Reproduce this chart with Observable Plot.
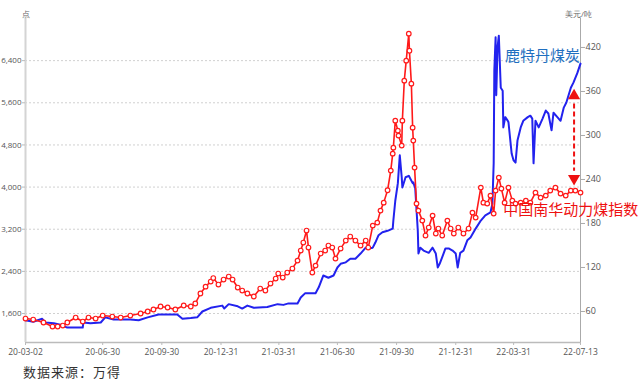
<!DOCTYPE html>
<html>
<head>
<meta charset="utf-8">
<script src="https://cdn.jsdelivr.net/npm/d3@7"></script>
<script src="https://cdn.jsdelivr.net/npm/@observablehq/plot@0.6"></script>
<style>
  html, body { margin: 0; padding: 0; background: #fff; }
  #chart { width: 640px; height: 384px; position: relative; }
  #caption { height: 24px; line-height: 24px; font-size: 13px; padding-left: 23px; letter-spacing: 1px;
    font-family: "Noto Sans CJK SC", sans-serif; color: #333; }
</style>
</head>
<body>
<div id="chart"></div>
<script>
// 中国南华动力煤指数 (点, left axis)
const redDates = ["2020-03-02","2020-03-14","2020-03-30","2020-04-13","2020-04-21","2020-04-29","2020-05-06","2020-05-19","2020-05-30","2020-06-08","2020-06-19","2020-06-30","2020-07-15","2020-07-28","2020-08-12","2020-08-28","2020-09-08","2020-09-17","2020-09-28","2020-10-09","2020-10-21","2020-11-03","2020-11-14","2020-11-21","2020-11-29","2020-12-07","2020-12-15","2020-12-19","2020-12-27","2021-01-04","2021-01-12","2021-01-18","2021-01-26","2021-02-02","2021-02-10","2021-02-20","2021-03-02","2021-03-10","2021-03-18","2021-03-26","2021-03-30","2021-04-06","2021-04-13","2021-04-21","2021-04-29","2021-05-04","2021-05-08","2021-05-13","2021-05-16","2021-05-22","2021-05-27","2021-06-04","2021-06-11","2021-06-16","2021-06-22","2021-06-27","2021-07-05","2021-07-13","2021-07-20","2021-07-28","2021-08-05","2021-08-13","2021-08-17","2021-08-24","2021-08-31","2021-09-05","2021-09-10","2021-09-16","2021-09-21","2021-09-24","2021-09-25","2021-09-28","2021-10-02","2021-10-03","2021-10-08","2021-10-09","2021-10-12","2021-10-15","2021-10-19","2021-10-20","2021-10-23","2021-10-25","2021-10-26","2021-10-28","2021-10-31","2021-11-03","2021-11-09","2021-11-14","2021-11-19","2021-11-25","2021-11-30","2021-12-04","2021-12-10","2021-12-18","2021-12-23","2021-12-28","2022-01-04","2022-01-12","2022-01-20","2022-01-26","2022-01-31","2022-02-08","2022-02-12","2022-02-18","2022-02-23","2022-02-28","2022-03-03","2022-03-08","2022-03-12","2022-03-17","2022-03-23","2022-03-29","2022-04-03","2022-04-11","2022-04-19","2022-04-26","2022-05-04","2022-05-12","2022-05-20","2022-05-27","2022-06-04","2022-06-12","2022-06-20","2022-06-28","2022-07-05","2022-07-13"];
const redValues = [1505,1486,1430,1353,1353,1372,1430,1524,1448,1524,1505,1562,1543,1524,1562,1600,1638,1676,1733,1714,1676,1752,1733,1790,1980,2110,2207,2273,2150,2245,2302,2245,2093,2036,1980,1923,2074,2036,2169,2264,2359,2283,2378,2454,2605,2795,2947,3175,2852,2378,2510,2738,2795,2890,2852,2643,2833,2985,3061,2985,2890,2985,2852,3269,3326,3554,3705,3940,4313,4635,4749,5261,5071,4977,4787,5261,6020,6400,6912,6589,5963,5128,4882,4370,3687,3554,3364,3080,3232,3459,3118,3213,3080,3364,3213,3118,3232,3118,3213,3516,3421,3990,3705,3687,3838,3497,3933,4180,3971,3705,3990,3743,3687,3705,3743,3705,3895,3800,3838,3933,3990,3876,3838,3933,3933,3895];

// 鹿特丹煤炭 (美元/吨, right axis)
const blueDates = ["2020-03-02","2020-03-14","2020-03-28","2020-04-02","2020-04-15","2020-04-25","2020-05-06","2020-05-30","2020-05-31","2020-06-11","2020-06-27","2020-07-04","2020-07-17","2020-08-12","2020-08-25","2020-09-08","2020-09-25","2020-10-24","2020-11-01","2020-11-14","2020-11-24","2020-12-02","2020-12-15","2021-01-02","2021-01-05","2021-01-12","2021-01-26","2021-02-02","2021-02-10","2021-02-20","2021-03-13","2021-03-29","2021-04-07","2021-04-15","2021-04-29","2021-05-04","2021-05-11","2021-05-19","2021-05-27","2021-06-01","2021-06-08","2021-06-16","2021-06-24","2021-06-30","2021-07-05","2021-07-13","2021-07-20","2021-07-28","2021-08-05","2021-08-13","2021-08-17","2021-08-24","2021-08-28","2021-09-02","2021-09-08","2021-09-16","2021-09-24","2021-09-25","2021-09-28","2021-10-02","2021-10-05","2021-10-08","2021-10-09","2021-10-14","2021-10-19","2021-10-25","2021-10-26","2021-10-29","2021-11-02","2021-11-03","2021-11-06","2021-11-11","2021-11-19","2021-11-25","2021-11-30","2021-12-03","2021-12-06","2021-12-10","2021-12-15","2021-12-20","2021-12-26","2021-12-31","2022-01-03","2022-01-07","2022-01-12","2022-01-18","2022-01-23","2022-01-31","2022-02-08","2022-02-15","2022-02-23","2022-02-26","2022-02-28","2022-03-01","2022-03-03","2022-03-04","2022-03-06","2022-03-08","2022-03-11","2022-03-14","2022-03-15","2022-03-18","2022-03-22","2022-03-23","2022-03-28","2022-03-31","2022-04-03","2022-04-06","2022-04-11","2022-04-15","2022-04-22","2022-04-26","2022-04-29","2022-05-01","2022-05-04","2022-05-09","2022-05-15","2022-05-20","2022-05-24","2022-05-29","2022-06-01","2022-06-07","2022-06-12","2022-06-17","2022-06-21","2022-06-28","2022-07-02","2022-07-08","2022-07-13"];
const blueValues = [48,46,50,45,44,42,38,38,45,44,45,52,49,49,48,52,56,56,50,51,52,60,65,68,64,70,67,64,68,65,66,70,69,71,71,79,85,85,85,93,109,106,109,120,125,127,132,132,139,147,146,147,154,164,168,170,173,184,211,235,273,243,229,243,245,235,236,228,170,139,147,143,140,147,139,120,125,134,146,146,143,139,120,140,143,157,161,173,184,191,195,207,262,389,434,355,420,436,365,361,311,325,320,318,275,266,263,293,311,320,325,327,323,262,320,311,323,334,330,307,331,325,320,338,345,365,372,385,398];

const xTickDates = ["2020-03-02","2020-06-30","2020-09-30","2020-12-31","2021-03-31","2021-06-30","2021-09-30","2021-12-31","2022-03-31","2022-07-13"];
const leftTicks = [1600, 2400, 3200, 4000, 4800, 5600, 6400];
const rightTicks = [60, 120, 180, 240, 300, 360, 420];
const leftDomain = [1050, 7200];
const rightDomain = [17.7, 459.5];
const leftUnit = "点";
const rightUnit = "美元/吨";
const blueName = "鹿特丹煤炭";
const redName = "中国南华动力煤指数";
const source = "数据来源：万得";

const parse = d3.utcParse("%Y-%m-%d");
const fmt = d3.utcFormat("%y-%m-%d");
const toLeft = d3.scaleLinear().domain(rightDomain).range(leftDomain);

const red = redDates.map((d, i) => ({date: parse(d), value: redValues[i]}));
const blue = blueDates.map((d, i) => ({date: parse(d), value: toLeft(blueValues[i])}));

const xDomain = [parse(xTickDates[0]), parse(xTickDates[xTickDates.length - 1])];

// annotation anchors (data space)
const blueLabel = [{date: parse("2022-05-15"), value: 6494, text: blueName}];
const redLabel = [{date: parse("2022-03-15"), value: 3560, text: redName}];
const arrow = [{date: parse("2022-07-03"), top: 5735, bottom: 4161}];

const font = "'Open Sans', 'DejaVu Sans', sans-serif";
const cjk = "'Noto Sans CJK SC', sans-serif";

const chart = Plot.plot({
  width: 640,
  height: 360,
  marginLeft: 25,
  marginRight: 60,
  marginTop: 18,
  marginBottom: 18,
  style: {fontFamily: font, fontSize: "9px", background: "white", overflow: "visible"},
  x: {type: "utc", domain: xDomain, axis: null},
  y: {domain: leftDomain, axis: null},
  marks: [
    Plot.gridY(leftTicks, {stroke: "#d0d0d0", strokeOpacity: 1, strokeDasharray: "2,2"}),
    Plot.ruleY([leftDomain[0]], {stroke: "#bbb", strokeWidth: 1.5}),
    Plot.ruleX([xDomain[0]], {stroke: "#d4d4d4", strokeWidth: 2}),
    Plot.ruleX([xDomain[1]], {stroke: "#aaa", strokeWidth: 1}),
    Plot.axisY(leftTicks, {anchor: "left", tickFormat: d3.format(","), tickSize: 3, tickPadding: 1,
      color: "#555", stroke: "#bbb", fontSize: 8, label: null}),
    Plot.axisY(rightTicks.map(toLeft), {anchor: "right", tickFormat: d => Math.round(toLeft.invert(d)),
      tickSize: 4, tickPadding: 1, color: "#555", stroke: "#aaa", fontSize: 9, label: null}),
    Plot.axisX(xTickDates.map(parse), {tickFormat: fmt, tickSize: 3, tickPadding: 3,
      color: "#555", stroke: "#bbb", fontSize: 8.5, label: null}),
    Plot.text([leftUnit], {frameAnchor: "top-left", dy: -7, text: d => d, fill: "#666", fontSize: 8, textAnchor: "middle"}),
    Plot.text([rightUnit], {frameAnchor: "top-right", dy: -7, dx: -2, text: d => d, fill: "#666", fontSize: 8, textAnchor: "middle"}),
    Plot.line(blue, {x: "date", y: "value", stroke: "#2222ee", strokeWidth: 2}),
    Plot.line(red, {x: "date", y: "value", stroke: "#ff1a1a", strokeWidth: 1.6}),
    Plot.dot(red, {x: "date", y: "value", r: 2.3, stroke: "#ff1a1a", fill: "white", strokeWidth: 1.2}),
    Plot.link(arrow, {x1: "date", x2: "date", y1: d => d.top - 150, y2: d => d.bottom + 150,
      stroke: "#ee1111", strokeWidth: 2, strokeDasharray: "5,3"}),
    Plot.dot(arrow, {x: "date", y: "top", symbol: "triangle", r: 4.5, fill: "#ee1111", stroke: "none"}),
    Plot.dot(arrow, {x: "date", y: "bottom", symbol: "triangle", r: 4.5, fill: "#ee1111", stroke: "none", rotate: 180}),
    Plot.text(blueLabel, {x: "date", y: "value", text: "text", fill: "#1f6fc0", fontSize: 15,
      fontFamily: cjk, textAnchor: "middle"}),
    Plot.text(redLabel, {x: "date", y: "value", text: "text", fill: "#ee1111", fontSize: 15,
      fontFamily: cjk, textAnchor: "start"})
  ]
});

document.getElementById("chart").appendChild(chart);
const cap = document.createElement("div");
cap.id = "caption";
cap.textContent = source;
document.getElementById("chart").appendChild(cap);
</script>
</body>
</html>
